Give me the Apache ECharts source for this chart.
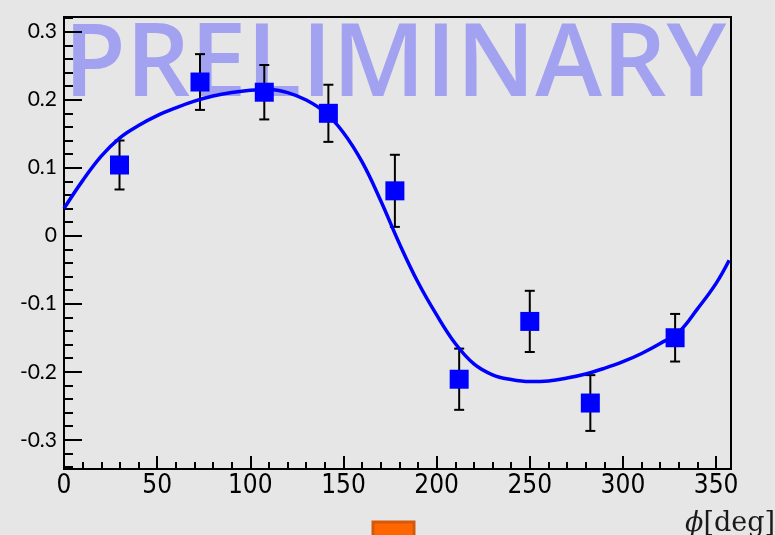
<!DOCTYPE html>
<html>
<head>
<meta charset="utf-8">
<script src="https://cdn.jsdelivr.net/npm/echarts@6/dist/echarts.min.js"></script>
<style>
  html, body { margin: 0; padding: 0; background: #e6e6e6; }
  #chart { width: 775px; height: 535px; }
</style>
</head>
<body>
<div id="chart"></div>
<script>
// ---- data ----
const phi   = [29.8, 73.0, 107.5, 141.9, 177.6, 212.1, 250.0, 282.5, 328.0];
const asym  = [0.104, 0.226, 0.211, 0.180, 0.066, -0.211, -0.126, -0.246, -0.150];
const err   = [0.036, 0.041, 0.040, 0.042, 0.053, 0.045, 0.045, 0.041, 0.035];

// fitted curve
const fitPhi = [0, 10, 20, 30, 40, 50, 60, 70, 80, 90, 100, 110, 120, 130, 140, 150, 160, 170, 180, 190, 200, 210, 220, 230, 240, 250, 260, 270, 280, 290, 300, 310, 320, 330, 340, 350, 357];
const fitVal = [0.040, 0.081, 0.117, 0.144, 0.162, 0.1765, 0.188, 0.1978, 0.2054, 0.2105, 0.2139, 0.215, 0.2105, 0.1995, 0.1815, 0.1515, 0.1085, 0.0515, -0.0115, -0.0685, -0.1165, -0.1585, -0.1885, -0.2045, -0.2115, -0.2145, -0.2135, -0.2093, -0.2033, -0.195, -0.1853, -0.1732, -0.1585, -0.1416, -0.1075, -0.070, -0.036];

const xTicks = [0, 50, 100, 150, 200, 250, 300, 350];
const yTicks = [-0.3, -0.2, -0.1, 0, 0.1, 0.2, 0.3];

const X_MIN = 0, X_MAX = 358, Y_MIN = -0.343, Y_MAX = 0.3216;

// minor ticks
const xMinor = [];
for (let v = 10; v < X_MAX; v += 10) if (v % 50 !== 0) xMinor.push(v);
const yMinor = [];
for (let k = -17; k <= 16; k++) { if (k % 5 !== 0) yMinor.push(Math.round(k * 2) / 100); }

const chart = echarts.init(document.getElementById('chart'), null, { renderer: 'canvas' });

const axisCommon = { type: 'value', splitLine: { show: false } };

chart.setOption({
  backgroundColor: '#e6e6e6',
  animation: false,
  grid: { left: 64, top: 17, width: 667, height: 452, show: true, borderColor: '#000', borderWidth: 2, backgroundColor: 'transparent' },
  xAxis: [
    Object.assign({}, axisCommon, {
      min: X_MIN, max: X_MAX, position: 'bottom',
      axisLine: { show: true, onZero: false, lineStyle: { color: '#000', width: 2 } },
      axisTick: { show: true, inside: true, length: 13, customValues: xTicks, lineStyle: { color: '#000', width: 2 } },
      axisLabel: { show: true, customValues: xTicks, margin: 4, color: '#000', fontFamily: '"Liberation Sans Narrow", "DejaVu Sans Condensed", sans-serif', fontSize: 26 }
    }),
    Object.assign({}, axisCommon, {
      min: X_MIN, max: X_MAX, position: 'bottom',
      axisLine: { show: false, onZero: false },
      axisTick: { show: true, inside: true, length: 7, customValues: xMinor, lineStyle: { color: '#000', width: 2 } },
      axisLabel: { show: false }
    })
  ],
  yAxis: [
    Object.assign({}, axisCommon, {
      min: Y_MIN, max: Y_MAX, position: 'left',
      axisLine: { show: true, onZero: false, lineStyle: { color: '#000', width: 2 } },
      axisTick: { show: true, inside: true, length: 18, customValues: yTicks, lineStyle: { color: '#000', width: 2 } },
      axisLabel: { show: true, customValues: yTicks, margin: 7, color: '#000', fontFamily: 'Lato, "Open Sans", sans-serif', fontSize: 21,
        formatter: v => String(Math.round(v * 10) / 10) }
    }),
    Object.assign({}, axisCommon, {
      min: Y_MIN, max: Y_MAX, position: 'left',
      axisLine: { show: false, onZero: false },
      axisTick: { show: true, inside: true, length: 9, customValues: yMinor, lineStyle: { color: '#000', width: 2 } },
      axisLabel: { show: false }
    })
  ],
  graphic: [
    {
      type: 'text', z: -1, zlevel: 0, silent: true,
      style: { text: 'PRELIMINARY', x: 395, y: 67, textAlign: 'center', textVerticalAlign: 'middle',
        font: '600 101px "Open Sans"', fill: 'rgba(60,60,255,0.40)' }
    },
    {
      type: 'text', silent: true,
      style: { x: 775, y: 524, textAlign: 'right', textVerticalAlign: 'middle',
        rich: {
          i: { fontFamily: '"DejaVu Serif"', fontStyle: 'italic', fontSize: 27, fill: '#1a1a1a' },
          n: { fontFamily: '"DejaVu Serif"', fontSize: 27, fill: '#1a1a1a' }
        },
        text: '{i|ϕ}{n|[deg]}' }
    },
    {
      type: 'rect', silent: true,
      shape: { x: 373, y: 522, width: 41, height: 20 },
      style: { fill: '#ff6600', stroke: '#d35a0c', lineWidth: 3 }
    }
  ],
  series: [
    {
      type: 'custom', xAxisIndex: 0, yAxisIndex: 0, z: 3,
      data: phi.map((p, i) => [p, asym[i], err[i]]),
      encode: { x: 0, y: 1 },
      renderItem: function (params, api) {
        const x = api.value(0), y = api.value(1), e = api.value(2);
        const t = api.coord([x, y + e]);
        const b = api.coord([x, y - e]);
        const c = 5;
        const st = { stroke: '#000', lineWidth: 2 };
        return { type: 'group', children: [
          { type: 'line', shape: { x1: t[0], y1: t[1], x2: b[0], y2: b[1] }, style: st },
          { type: 'line', shape: { x1: t[0] - c, y1: t[1], x2: t[0] + c, y2: t[1] }, style: st },
          { type: 'line', shape: { x1: b[0] - c, y1: b[1], x2: b[0] + c, y2: b[1] }, style: st }
        ] };
      }
    },
    {
      type: 'scatter', xAxisIndex: 0, yAxisIndex: 0, z: 4,
      symbol: 'rect', symbolSize: 19,
      itemStyle: { color: '#0000ff', opacity: 1 },
      data: phi.map((p, i) => [p, asym[i]])
    },
    {
      type: 'line', xAxisIndex: 0, yAxisIndex: 0, z: 5,
      smooth: 0.4, showSymbol: false, clip: true,
      lineStyle: { color: '#0000ff', width: 3.5 },
      data: fitPhi.map((p, i) => [p, fitVal[i]])
    }
  ]
});
</script>
</body>
</html>
